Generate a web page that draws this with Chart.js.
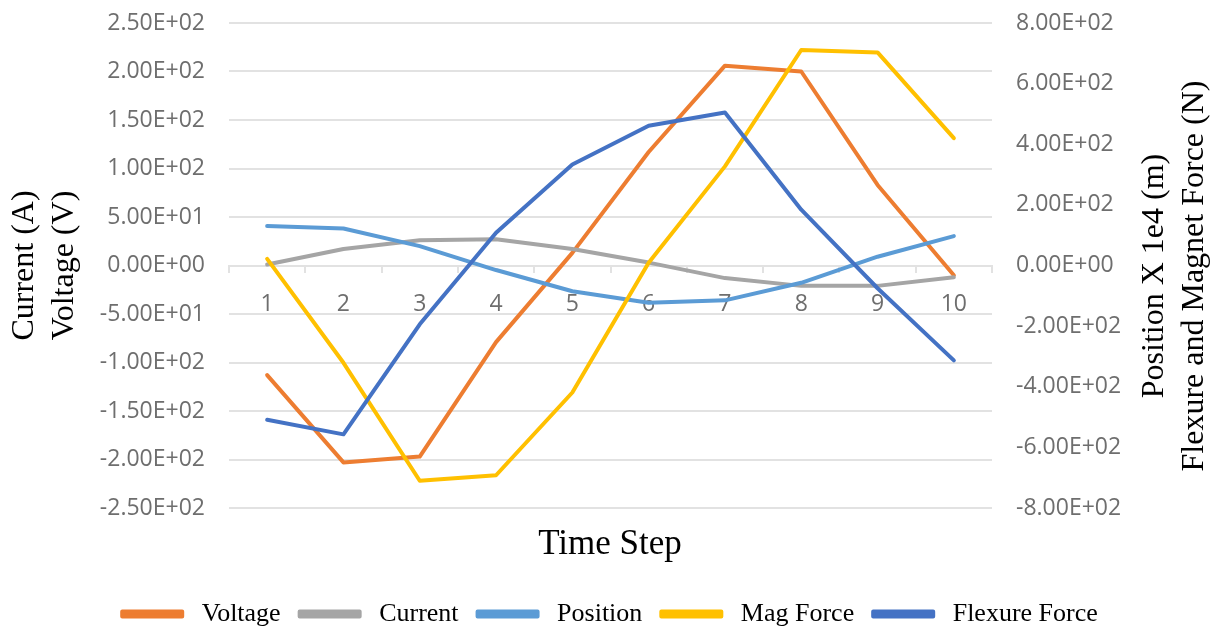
<!DOCTYPE html>
<html lang="en">

<head>
    <meta charset="UTF-8">
    <script src="https://cdn.jsdelivr.net/npm/chart.js"></script>
    <style>
        body { margin: 0; background: #fff; }
    </style>
</head>

<body>
    <canvas id="timeChart" width="1220" height="633"></canvas>

    <script>
        const time_steps = ['1', '2', '3', '4', '5', '6', '7', '8', '9', '10'];

        // left axis (A / V)
        const voltage = [-113, -203, -197, -79, 13, 117, 206, 200, 83, -10];
        const current = [1, 17, 26, 27, 17, 3, -13, -21, -21, -12];
        // right axis (m x 1e4 / N)
        const position = [130, 122, 64, -15, -85, -123, -115, -57, 29, 97];
        const mag_force = [22, -321, -710, -692, -419, 9, 327, 711, 703, 420];
        const flexure_force = [-509, -557, -194, 108, 333, 461, 505, 184, -75, -313];

        const left_title = ['Current (A)', 'Voltage (V)'];
        const right_title = ['Position X 1e4 (m)', 'Flexure and Magnet Force (N)'];
        const x_title = 'Time Step';

        const tick_color = '#6e6e6e';
        const grid_color = '#e2e2e2';
        const tick_font = { family: 'Open Sans', size: 23 };
        const serif = 'Liberation Serif';

        // 2.50E+02 style labels
        function sci(value) {
            const parts = Number(value).toExponential(2).split('e');
            const exp = parts[1];
            return parts[0] + 'E' + exp[0] + exp.slice(1).padStart(2, '0');
        }

        function line(label, data, color, axis, order) {
            return {
                label: ' ' + label,
                data: data,
                yAxisID: axis,
                borderColor: color,
                backgroundColor: color,
                borderWidth: 4,
                borderCapStyle: 'round',
                borderJoinStyle: 'round',
                pointRadius: 0,
                tension: 0,
                order: order
            };
        }

        // right title reads bottom-to-top like the left one
        const rightTitle = {
            id: 'rightTitle',
            afterDraw(chart) {
                const ctx = chart.ctx;
                const s = chart.scales.y1;
                ctx.save();
                ctx.translate(s.right - 65, 276);
                ctx.rotate(-Math.PI / 2);
                ctx.font = '32px "' + serif + '"';
                ctx.fillStyle = '#000';
                ctx.textAlign = 'center';
                ctx.textBaseline = 'middle';
                ctx.fillText(right_title[0], 0, 0);
                ctx.fillText(right_title[1], 0, 40);
                ctx.restore();
            }
        };

        new Chart(document.getElementById('timeChart'), {
            type: 'line',
            data: {
                labels: time_steps,
                datasets: [
                    line('Voltage', voltage, '#ED7D31', 'y', 5),
                    line('Current', current, '#A5A5A5', 'y', 4),
                    line('Position', position, '#5B9BD5', 'y1', 3),
                    line('Mag Force', mag_force, '#FFC000', 'y1', 2),
                    line('Flexure Force', flexure_force, '#4472C4', 'y1', 1)
                ]
            },
            options: {
                responsive: false,
                animation: false,
                layout: {
                    padding: { top: 23, bottom: -4, left: 0, right: 0 }
                },
                plugins: {
                    tooltip: { enabled: false },
                    legend: {
                        position: 'bottom',
                        labels: {
                            boxWidth: 60,
                            boxHeight: 5,
                            padding: 19,
                            color: '#000',
                            font: { family: serif, size: 26 },
                            sort: (a, b) => a.datasetIndex - b.datasetIndex
                        }
                    },
                    title: {
                        display: true,
                        position: 'bottom',
                        weight: 500,
                        text: x_title,
                        color: '#000',
                        font: { family: serif, size: 35, weight: 'normal' },
                        padding: { top: 16, bottom: 16 }
                    }
                },
                scales: {
                    x: {
                        position: { y: 0 },
                        offset: true,
                        grid: {
                            display: true,
                            drawOnChartArea: false,
                            drawTicks: true,
                            tickLength: 6,
                            offset: true,
                            color: grid_color,
                            lineWidth: 2
                        },
                        border: { display: true, color: grid_color, width: 2 },
                        ticks: { color: tick_color, font: tick_font, padding: 19, maxRotation: 0 }
                    },
                    y: {
                        position: 'left',
                        min: -250,
                        max: 250,
                        afterFit: (s) => { s.width = 229; },
                        // invisible tick marks make the gap, ticks.padding would also pad the top
                        grid: { color: grid_color, lineWidth: 2, drawTicks: true, tickLength: 24, tickColor: 'rgba(0,0,0,0)' },
                        border: { display: false },
                        ticks: { stepSize: 50, color: tick_color, font: tick_font, padding: 0, callback: sci },
                        title: {
                            display: true,
                            text: left_title,
                            color: '#000',
                            font: { family: serif, size: 32, lineHeight: 1.25 },
                            padding: { top: 5, bottom: 0 }
                        }
                    },
                    y1: {
                        position: 'right',
                        min: -800,
                        max: 800,
                        afterFit: (s) => { s.width = 228; },
                        grid: { drawOnChartArea: false, drawTicks: true, tickLength: 24, tickColor: 'rgba(0,0,0,0)' },
                        border: { display: false },
                        ticks: { stepSize: 200, color: tick_color, font: tick_font, padding: 0, callback: sci }
                    }
                }
            },
            plugins: [rightTitle]
        });
    </script>

</body>

</html>
